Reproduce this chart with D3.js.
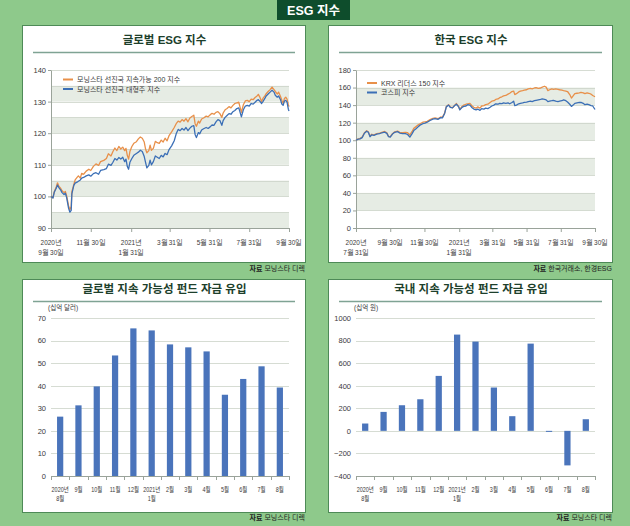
<!DOCTYPE html>
<html><head><meta charset="utf-8">
<script src="https://cdn.jsdelivr.net/npm/d3@7"></script>
<style>
body{margin:0;background:#8ec98b;}
svg{display:block;font-family:"Liberation Sans Narrow","Liberation Sans","Noto Sans CJK KR",sans-serif;}
</style></head><body><svg id="c" width="630" height="526"></svg>
<script>
// ---------- DATA ----------
const globalDates = ["2020-09-30","2020-10-03","2020-10-05","2020-10-08","2020-10-10","2020-10-12","2020-10-15","2020-10-17","2020-10-20","2020-10-22","2020-10-24","2020-10-27","2020-10-29","2020-10-31","2020-11-01","2020-11-04","2020-11-06","2020-11-09","2020-11-11","2020-11-14","2020-11-16","2020-11-19","2020-11-23","2020-11-27","2020-11-30","2020-12-04","2020-12-08","2020-12-12","2020-12-15","2020-12-20","2020-12-24","2020-12-27","2020-12-31","2021-01-03","2021-01-06","2021-01-09","2021-01-12","2021-01-15","2021-01-18","2021-01-21","2021-01-23","2021-01-25","2021-01-27","2021-01-29","2021-02-01","2021-02-04","2021-02-08","2021-02-11","2021-02-14","2021-02-17","2021-02-20","2021-02-22","2021-02-24","2021-02-27","2021-03-01","2021-03-03","2021-03-06","2021-03-09","2021-03-12","2021-03-15","2021-03-18","2021-03-21","2021-03-24","2021-03-27","2021-03-30","2021-04-03","2021-04-07","2021-04-10","2021-04-13","2021-04-16","2021-04-19","2021-04-22","2021-04-25","2021-04-28","2021-05-01","2021-05-04","2021-05-07","2021-05-09","2021-05-11","2021-05-14","2021-05-16","2021-05-19","2021-05-22","2021-05-26","2021-05-29","2021-06-01","2021-06-04","2021-06-07","2021-06-10","2021-06-13","2021-06-16","2021-06-19","2021-06-21","2021-06-24","2021-06-27","2021-06-30","2021-07-03","2021-07-06","2021-07-09","2021-07-12","2021-07-15","2021-07-17","2021-07-19","2021-07-22","2021-07-25","2021-07-28","2021-07-31","2021-08-03","2021-08-06","2021-08-09","2021-08-12","2021-08-14","2021-08-16","2021-08-19","2021-08-21","2021-08-24","2021-08-26","2021-08-29","2021-09-01","2021-09-04","2021-09-07","2021-09-09","2021-09-12","2021-09-14","2021-09-17","2021-09-19","2021-09-21","2021-09-23","2021-09-25","2021-09-27","2021-09-29","2021-09-30"];
const globalSustain200 = [100.0,99.6,101.5,103.0,104.3,103.2,102.5,101.8,101.2,101.6,100.2,97.0,95.8,96.8,101.5,103.8,105.2,106.0,106.5,105.8,107.3,107.0,108.0,108.6,108.2,109.5,110.3,109.8,111.0,111.4,112.0,113.5,112.8,114.2,115.3,114.5,115.8,115.0,115.6,114.5,115.2,113.0,111.8,114.2,115.8,116.8,117.3,118.2,118.8,118.4,117.2,115.0,113.8,114.5,116.2,114.6,115.2,117.4,117.0,116.8,117.8,117.2,118.4,117.6,119.2,120.4,121.8,123.0,123.8,123.5,124.3,123.8,124.6,123.6,124.8,125.3,125.7,123.0,122.2,123.8,123.2,124.5,124.8,125.4,125.2,125.8,126.3,126.0,126.6,126.8,126.2,125.0,126.4,127.4,127.8,128.4,128.0,128.8,129.4,129.6,129.8,128.2,126.6,129.0,130.2,130.4,130.0,130.8,130.6,131.3,131.8,132.3,131.5,130.0,131.0,131.8,132.5,133.2,133.8,134.6,133.8,133.2,132.4,133.0,131.6,130.4,129.4,131.0,131.4,130.8,129.0,128.4];
const globalLargeCap = [100.0,99.5,101.3,102.6,103.6,102.8,102.0,101.2,100.6,101.0,99.6,96.2,95.0,95.6,100.8,103.5,104.2,104.5,104.8,105.2,105.8,106.0,106.5,106.8,106.4,107.2,107.5,107.0,108.2,108.5,108.8,110.2,109.8,110.8,112.0,111.5,112.3,111.8,112.4,111.0,111.8,109.5,108.6,110.8,112.0,113.0,113.6,114.0,114.6,114.2,112.6,110.8,109.0,109.8,111.5,110.0,111.0,112.8,112.4,112.0,113.0,112.5,113.6,113.2,114.8,116.0,117.6,119.8,121.2,120.8,121.5,121.0,121.8,120.8,121.6,122.2,122.4,119.6,118.6,120.2,119.8,121.0,121.4,121.8,121.5,122.0,122.6,122.5,123.6,124.3,124.0,122.5,124.0,125.0,125.6,126.2,126.0,126.8,127.2,127.8,128.0,126.6,125.2,127.4,128.6,128.8,128.6,129.4,129.2,129.8,130.4,130.6,130.2,129.4,130.0,131.0,131.8,132.4,133.0,133.6,133.0,132.0,131.4,131.8,130.6,129.2,128.8,130.2,130.4,129.8,127.6,127.0];

const koreaDates = ["2020-07-31","2020-08-04","2020-08-07","2020-08-11","2020-08-15","2020-08-19","2020-08-22","2020-08-25","2020-08-28","2020-09-01","2020-09-06","2020-09-11","2020-09-15","2020-09-20","2020-09-24","2020-09-27","2020-09-30","2020-10-04","2020-10-08","2020-10-13","2020-10-17","2020-10-22","2020-10-27","2020-10-31","2020-11-04","2020-11-08","2020-11-11","2020-11-15","2020-11-19","2020-11-23","2020-11-27","2020-12-01","2020-12-05","2020-12-10","2020-12-15","2020-12-19","2020-12-24","2020-12-29","2021-01-01","2021-01-05","2021-01-08","2021-01-12","2021-01-15","2021-01-19","2021-01-23","2021-01-26","2021-01-30","2021-02-01","2021-02-05","2021-02-08","2021-02-12","2021-02-15","2021-02-19","2021-02-23","2021-02-26","2021-03-02","2021-03-05","2021-03-09","2021-03-12","2021-03-16","2021-03-19","2021-03-23","2021-03-27","2021-03-30","2021-04-03","2021-04-06","2021-04-10","2021-04-13","2021-04-17","2021-04-20","2021-04-24","2021-04-28","2021-05-01","2021-05-05","2021-05-08","2021-05-10","2021-05-13","2021-05-17","2021-05-20","2021-05-24","2021-05-27","2021-05-31","2021-06-03","2021-06-07","2021-06-10","2021-06-14","2021-06-17","2021-06-21","2021-06-25","2021-06-28","2021-07-02","2021-07-05","2021-07-08","2021-07-11","2021-07-15","2021-07-18","2021-07-22","2021-07-26","2021-07-29","2021-08-02","2021-08-05","2021-08-09","2021-08-12","2021-08-16","2021-08-19","2021-08-22","2021-08-25","2021-08-29","2021-09-02","2021-09-05","2021-09-09","2021-09-12","2021-09-16","2021-09-19","2021-09-23","2021-09-26","2021-09-30"];
const krxLeaders150 = [100.0,101.5,101.8,103.5,108.5,110.8,109.5,104.5,106.8,106.0,107.5,108.0,109.0,110.0,108.5,104.5,104.0,107.5,109.5,110.5,109.0,108.5,109.0,108.5,106.0,110.0,113.5,115.5,117.5,119.0,120.5,121.0,121.5,123.5,125.0,125.5,124.5,126.5,126.0,131.0,138.5,140.5,138.0,137.0,140.0,141.8,138.5,135.0,138.5,140.0,141.0,141.5,142.0,139.0,137.5,136.5,138.0,136.5,139.0,139.5,140.5,141.0,143.0,144.5,145.0,146.5,147.0,148.5,149.5,150.5,151.0,152.5,153.5,155.5,156.0,152.0,153.0,155.0,156.0,156.5,157.0,157.5,158.5,159.0,158.5,159.5,160.0,159.0,159.5,160.5,161.5,160.5,156.5,157.5,158.5,158.0,158.5,158.0,157.5,157.0,156.5,156.0,155.5,152.0,148.0,150.5,153.0,153.5,154.0,154.5,154.0,153.0,154.0,153.5,152.5,151.0,149.5];
const kospiIndex = [100.0,101.2,101.5,103.0,108.0,110.2,109.0,104.0,106.2,105.5,107.0,107.4,108.5,109.2,107.8,104.0,103.5,107.0,109.0,109.8,108.2,107.5,107.5,106.5,103.5,107.5,111.0,113.0,115.5,117.5,118.8,119.5,120.5,122.5,124.0,124.5,123.8,125.8,125.5,130.5,138.0,140.0,137.5,136.8,139.5,141.0,138.0,134.5,137.5,138.5,139.0,140.5,140.0,137.0,135.5,134.5,135.5,134.0,136.0,135.5,136.5,136.0,137.5,139.0,140.0,141.5,141.0,142.0,141.8,142.5,142.0,142.5,141.5,143.0,144.5,139.5,140.0,141.5,142.0,142.5,143.0,143.5,144.0,144.5,144.0,145.0,145.5,146.0,146.5,147.0,146.5,146.0,144.0,144.5,145.0,145.5,144.5,144.0,144.5,145.0,146.0,145.0,143.5,141.0,138.5,140.0,142.0,142.5,143.0,143.0,142.0,140.5,141.0,140.5,139.5,139.0,135.0];

const globalTickDates = ["2020-09-30","2020-11-30","2021-01-31","2021-03-31","2021-05-31","2021-07-31","2021-09-30"];
const globalTickLabels = ["2020년|9월 30일","11월 30일","2021년|1월 31일","3월 31일","5월 31일","7월 31일","9월 30일"];
const koreaTickDates = ["2020-07-31","2020-09-30","2020-11-30","2021-01-31","2021-03-31","2021-05-31","2021-07-31","2021-09-30"];
const koreaTickLabels = ["2020년|7월 31일","9월 30일","11월 30일","2021년|1월 31일","3월 31일","5월 31일","7월 31일","9월 30일"];

const flowMonths = ["2020년|8월","9월","10월","11월","12월","2021년|1월","2월","3월","4월","5월","6월","7월","8월"];
const globalFlows = [26.3,31.3,39.7,53.4,65.4,64.5,58.3,57.0,55.2,36.0,43.0,48.6,39.2];
const koreaFlows = [65,168,227,280,487,853,791,384,130,773,-9,-306,103];

// ---------- STYLE ----------
const C = {
  bg:"#8ec98b", panelStroke:"#4e8a57", dark:"#0e4d2c", title:"#1d3f2c", rule:"#7fa394",
  band:"#e6ece4", grid:"#cbd3c8", axis:"#9aa39a", text:"#3a3a3a",
  orange:"#e8904a", blue:"#3b6fb6", bar:"#4a74bb"
};
const parse = d3.timeParse("%Y-%m-%d");
const svg = d3.select("#c");
svg.append("rect").attr("width",630).attr("height",526).attr("fill",C.bg);

// header
svg.append("rect").attr("x",277).attr("y",0).attr("width",73).attr("height",20).attr("fill",C.dark);
svg.append("text").attr("x",313.5).attr("y",14.5).attr("text-anchor","middle").attr("fill","#fff")
  .attr("font-size",12.5).attr("font-weight","bold").text("ESG 지수");

function panel(x,y,w,h,title,ty,ruleY){
  svg.append("rect").attr("x",x+0.5).attr("y",y+0.5).attr("width",w).attr("height",h)
    .attr("fill","#fff").attr("stroke",C.panelStroke).attr("stroke-width",1);
  svg.append("text").attr("x",x+w/2+1).attr("y",ty).attr("text-anchor","middle")
    .attr("fill",C.title).attr("font-size",11.5).attr("font-weight","bold").text(title);
  svg.append("line").attr("x1",x+11).attr("x2",x+w-10).attr("y1",ruleY).attr("y2",ruleY)
    .attr("stroke",C.rule).attr("stroke-width",1.5);
}
function source(xr,y,rest){
  const t = svg.append("text").attr("x",xr).attr("y",y).attr("text-anchor","end")
    .attr("font-size",7).attr("fill","#222");
  t.append("tspan").attr("font-weight","bold").text("자료 ");
  t.append("tspan").text(rest);
}

panel(22,25,283,237,"글로벌 ESG 지수",44,52.5);
panel(328,25,284,237,"한국 ESG 지수",44,52.5);
panel(22,279,283,233,"글로벌 지속 가능성 펀드 자금 유입",293,301.5);
panel(328,279,284,233,"국내 지속 가능성 펀드 자금 유입",293,301.5);
source(305,271,"모닝스타 디렉");
source(612,271,"한국거래소, 한경ESG");
source(305,520,"모닝스타 디렉");
source(612,520,"모닝스타 디렉");

// condensed two-line label, centred at (cx, top baseline y)
function label(parent, cx, y, txt, size, sx, lh){
  const t = parent.append("text").attr("transform",`translate(${cx},${y}) scale(${sx},1)`)
    .attr("text-anchor","middle").attr("font-size",size).attr("fill",C.text);
  txt.split("|").forEach((l,j)=>t.append("tspan").attr("x",0).attr("dy",j?lh:0).text(l));
}

// ---------- LINE CHARTS ----------
function lineChart(o){
  const g = svg.append("g");
  const x = d3.scaleTime().domain([parse(o.tickDates[0]), parse(o.tickDates[o.tickDates.length-1])]).range([o.x0,o.x1]);
  const y = d3.scaleLinear().domain(o.yDomain).range([o.y0,o.y1]);
  const bands = d3.range(o.yDomain[0], o.yDomain[1], o.band);
  bands.forEach((v,i)=>{
    if ((bands.length-1-i) % 2 === 1) {
      g.append("rect").attr("x",o.x0).attr("width",o.x1-o.x0)
        .attr("y",y(v+o.band)).attr("height",y(v)-y(v+o.band)).attr("fill",C.band);
    }
  });
  bands.concat([o.yDomain[1]]).forEach(v=>{
    g.append("line").attr("x1",o.x0).attr("x2",o.x1).attr("y1",Math.round(y(v))+0.5).attr("y2",Math.round(y(v))+0.5)
      .attr("stroke",C.grid).attr("stroke-width",0.8);
  });
  const ya = g.append("g").attr("transform",`translate(${o.x0},0)`)
    .call(d3.axisLeft(y).tickValues(d3.range(o.yDomain[0],o.yDomain[1]+0.001,o.yStep)).tickSize(3).tickSizeOuter(0));
  ya.select(".domain").attr("stroke",C.axis);
  ya.selectAll(".tick line").attr("stroke",C.axis);
  ya.selectAll("text").attr("font-size",7.5).attr("fill",C.text).attr("x",-5).attr("font-family","Liberation Sans");
  const xa = g.append("g").attr("transform",`translate(0,${o.y0})`)
    .call(d3.axisBottom(x).tickValues(o.tickDates.map(parse)).tickSize(4).tickSizeOuter(0).tickFormat(""));
  xa.select(".domain").attr("stroke",C.axis);
  xa.selectAll(".tick line").attr("stroke",C.axis);
  xa.selectAll(".tick text").remove();
  o.tickDates.forEach((d,i)=> label(xa, x(parse(d)), 16.5, o.tickLabels[i], 7.5, 0.86, 10.5));
  const line = d3.line().x(d=>x(d[0])).y(d=>y(d[1]));
  o.series.forEach(s=>{
    const pts = o.dates.map((d,i)=>[parse(d), s.values[i]]);
    g.append("path").attr("d",line(pts)).attr("fill","none").attr("stroke",s.color).attr("stroke-width",1.3)
      .attr("stroke-linejoin","round");
  });
  o.series.forEach((s,i)=>{
    const ly = o.legY + i*9.5;
    g.append("line").attr("x1",o.legX).attr("x2",o.legX+10).attr("y1",ly).attr("y2",ly)
      .attr("stroke",s.color).attr("stroke-width",2);
    g.append("text").attr("x",o.legX+14).attr("y",ly+2.6).attr("font-size",7).attr("fill",C.text).text(s.name);
  });
}

lineChart({x0:51,x1:289,y0:228,y1:70,yDomain:[90,140],yStep:10,band:5,
  dates:globalDates, tickDates:globalTickDates, tickLabels:globalTickLabels,
  series:[{name:"모닝스타 선진국 지속가능 200 지수",values:globalSustain200,color:C.orange},
          {name:"모닝스타 선진국 대형주 지수",values:globalLargeCap,color:C.blue}],
  legX:63,legY:79.5});

lineChart({x0:356,x1:595,y0:228,y1:70,yDomain:[0,180],yStep:20,band:20,
  dates:koreaDates, tickDates:koreaTickDates, tickLabels:koreaTickLabels,
  series:[{name:"KRX 리더스 150 지수",values:krxLeaders150,color:C.orange},
          {name:"코스피 지수",values:kospiIndex,color:C.blue}],
  legX:367,legY:83});

// ---------- BAR CHARTS ----------
function barChart(o){
  const g = svg.append("g");
  const x = d3.scaleBand().domain(flowMonths).range([o.x0,o.x1]).paddingInner(0.66).paddingOuter(0.33);
  const y = d3.scaleLinear().domain(o.yDomain).range([o.y0,o.y1]);
  const ticks = d3.range(o.yDomain[0],o.yDomain[1]+0.001,o.yStep);
  ticks.forEach(v=>{
    if (v===o.yDomain[0]) return;
    g.append("line").attr("x1",o.x0).attr("x2",o.x1).attr("y1",Math.round(y(v))+0.5).attr("y2",Math.round(y(v))+0.5)
      .attr("stroke",C.grid).attr("stroke-width",0.8);
  });
  const ya = g.append("g").attr("transform",`translate(${o.x0},0)`)
    .call(d3.axisLeft(y).tickValues(ticks).tickSize(0).tickFormat(d=>d<0? "−"+Math.abs(d) : d));
  ya.select(".domain").remove();
  ya.selectAll("text").attr("font-size",7.5).attr("fill",C.text).attr("x",-5).attr("font-family","Liberation Sans");
  o.values.forEach((v,i)=>{
    g.append("rect").attr("x",x(flowMonths[i])).attr("width",x.bandwidth())
      .attr("y",y(Math.max(0,v))).attr("height",Math.abs(y(v)-y(0))).attr("fill",C.bar);
  });
  const ax = g.append("g").attr("transform",`translate(0,${o.y0})`);
  ax.append("line").attr("x1",o.x0).attr("x2",o.x1).attr("y1",0.5).attr("y2",0.5).attr("stroke",C.axis);
  d3.range(flowMonths.length+1).forEach(i=>{
    const xx = Math.round(o.x0 + i*(o.x1-o.x0)/flowMonths.length)+0.5;
    ax.append("line").attr("x1",xx).attr("x2",xx).attr("y1",0).attr("y2",4).attr("stroke",C.axis);
  });
  flowMonths.forEach(m=> label(ax, x(m)+x.bandwidth()/2, 16, m, 7, 0.78, 9));
  svg.append("text").attr("x",o.unitX).attr("y",310).attr("font-size",6.5).attr("fill",C.text).text(o.unit);
}
barChart({x0:51,x1:289,y0:476,y1:318,yDomain:[0,70],yStep:10,values:globalFlows,unit:"(십억 달러)",unitX:48});
barChart({x0:356,x1:595,y0:476,y1:318,yDomain:[-400,1000],yStep:200,values:koreaFlows,unit:"(십억 원)",unitX:354});
</script></body></html>
